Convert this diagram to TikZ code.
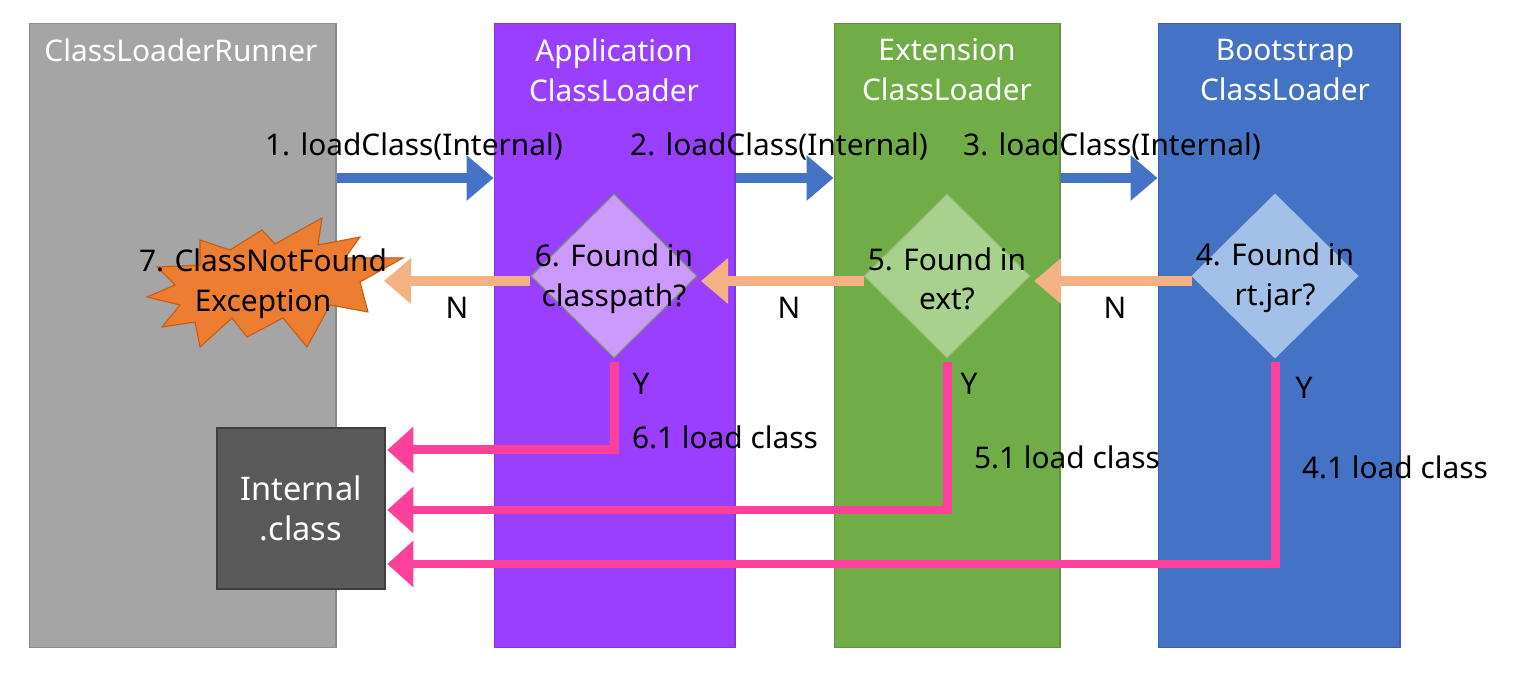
\documentclass[tikz,border=0pt]{standalone}
\usepackage{fontspec}
\setmainfont{Noto Sans}
\usetikzlibrary{arrows.meta,shapes.geometric}
\definecolor{runnerc}{HTML}{A5A5A5}
\definecolor{appc}{HTML}{9A3FFF}
\definecolor{extc}{HTML}{70AD47}
\definecolor{bootc}{HTML}{4472C4}
\definecolor{dappc}{HTML}{CC99FF}
\definecolor{dextc}{HTML}{A9D18E}
\definecolor{dbootc}{HTML}{A3C1E8}
\definecolor{orarr}{HTML}{F4B183}
\definecolor{pinkarr}{HTML}{FF409A}
\definecolor{starc}{HTML}{ED7D31}
\definecolor{starb}{HTML}{C55A11}
\definecolor{boxc}{HTML}{595959}
\begin{document}
\begin{tikzpicture}[x=0.02cm,y=-0.02cm,
  font=\fontsize{17}{22.6}\selectfont,
  colbox/.style={draw=#1!85!black, fill=#1, line width=0.6pt, minimum height=12.5cm, inner sep=0pt},
  title/.style={text=white, align=center, inner sep=0pt},
  txt/.style={text=black, align=center, inner sep=0pt},
  dia/.style={diamond, draw=#1, line width=0.6pt, inner sep=0pt, minimum width=3.32cm, minimum height=3.28cm},
  bluearrow/.style={draw=bootc, line width=0.2cm, -{Triangle[width=0.88cm,length=0.54cm]}},
  orarrow/.style={draw=orarr, line width=0.2cm, -{Triangle[width=0.88cm,length=0.54cm]}},
  pinkarrow/.style={draw=pinkarr, line width=0.18cm, -{Triangle[width=0.9cm,length=0.52cm]}},
]
\useasboundingbox (0,0) rectangle (1530,688);
\fill[white] (0,0) rectangle (1530,688);

% columns
\node[colbox=runnerc, minimum width=6.14cm] (runner) at (182.5,335.5) {};
\node[colbox=appc, minimum width=4.82cm] (app) at (614.5,335.5) {};
\node[colbox=extc, minimum width=4.52cm] (ext) at (947,335.5) {};
\node[colbox=bootc, minimum width=4.84cm] (boot) at (1279,335.5) {};

\node[title] (trunner) at (181,50) {ClassLoaderRunner};
\node[title] (tapp) at (614,70) {Application\\ClassLoader};
\node[title] (text) at (947,70) {Extension\\ClassLoader};
\node[title] (tboot) at (1285,70) {Bootstrap\\ClassLoader};

% blue arrows
\coordinate (yb) at (0,178);
\draw[bluearrow] (runner.east |- yb) -- (app.west |- yb);
\draw[bluearrow] (app.east |- yb) -- (ext.west |- yb);
\draw[bluearrow] (ext.east |- yb) -- (boot.west |- yb);
\node[txt] (l1) at (414,147) {1. loadClass(Internal)};
\node[txt] (l2) at (779,147) {2. loadClass(Internal)};
\node[txt] (l3) at (1112,147) {3. loadClass(Internal)};

% diamonds
\node[dia=extc!70!gray, fill=dappc] (d6) at (614,276) {};
\node[dia=dextc!90!black, fill=dextc] (d5) at (947,276) {};
\node[dia=dbootc, fill=dbootc] (d4) at (1275,276) {};
\node[txt] (t6) at (614,279) {6. Found in\\classpath?};
\node[txt] (t5) at (947,279) {5. Found in\\ext?};
\node[txt] (t4) at (1275,278) {4. Found in\\rt.jar?};

% starburst
\draw[fill=starc, draw=starb, line width=0.6pt]
 (262,230) -- (275,244) -- (322,218) -- (318,245) -- (360,237) -- (345,258) --
 (403,258) -- (360,282) -- (368,312) -- (330,305) -- (307,347) -- (283,318) --
 (247,337) -- (232,318) -- (200,347) -- (195,322) -- (162,327) -- (180,305) --
 (147,297) -- (175,285) -- (157,267) -- (200,265) -- (200,240) -- (230,250) -- cycle;
\node[txt] (exc) at (263,284) {7. ClassNotFound\\Exception};
\coordinate (starE) at (384,281);

% orange arrows
\coordinate (yo) at (0,281);
\draw[orarrow] (d4.west |- yo) -- ([xshift=2pt]d5.east |- yo);
\draw[orarrow] (d5.west |- yo) -- ([xshift=2pt]d6.east |- yo);
\draw[orarrow] (d6.west |- yo) -- (starE);
\node[txt] (n1) at (457,308) {N};
\node[txt] (n2) at (789,308) {N};
\node[txt] (n3) at (1115,308) {N};

% internal class box
\node[draw=boxc!70!black, fill=boxc, line width=0.6pt, minimum width=3.36cm, minimum height=3.22cm, text=white, align=center, inner sep=0pt, font=\fontsize{18.5}{22.6}\selectfont] (ic) at (301,508.5) {Internal\\.class};

% pink arrows
\coordinate (yp1) at (0,450);
\coordinate (yp2) at (0,510);
\coordinate (yp3) at (0,564);
\draw[pinkarrow] ([yshift=-2pt]d6.south) |- ([xshift=1pt]ic.east |- yp1);
\draw[pinkarrow] ([yshift=-2pt]d5.south) |- ([xshift=1pt]ic.east |- yp2);
\draw[pinkarrow] ([yshift=-2pt]d4.south) |- ([xshift=1pt]ic.east |- yp3);
\node[txt] (y1) at (641,384) {Y};
\node[txt] (y2) at (969,384) {Y};
\node[txt] (y3) at (1304,388) {Y};
\node[txt] (p1) at (725,437) {6.1 load class};
\node[txt] (p2) at (1067,457) {5.1 load class};
\node[txt] (p3) at (1395,467) {4.1 load class};
\end{tikzpicture}
\end{document}
